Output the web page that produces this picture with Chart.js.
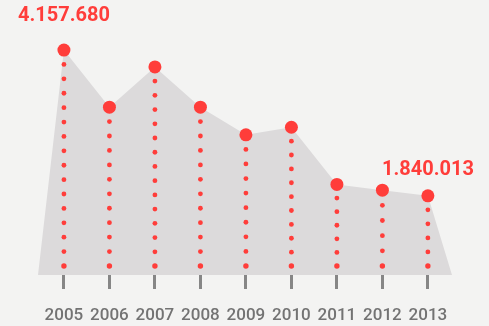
<!DOCTYPE html>
<html>
<head>
<meta charset="utf-8">
<script src="https://cdn.jsdelivr.net/npm/chart.js@4"></script>
<style>
  html, body { margin: 0; padding: 0; background: #f3f3f2; }
  #wrap { width: 489px; height: 326px; }
</style>
</head>
<body>
<div id="wrap"><canvas id="lineChart" width="489" height="326"></canvas></div>
<script>
const years = [2005, 2006, 2007, 2008, 2009, 2010, 2011, 2012, 2013]
const values = [4157680, 3250000, 3890000, 3250000, 2810000, 2930000, 2020000, 1930000, 1840013]
// only the first and last values get a label
const labelled = [0, 8]

const red = '#ff3d3a'
const yMin = 580000
const yMax = 4636000

// the grey area runs a bit past the first and last year down to the baseline
const areaPoints = [{ x: 2004.43, y: yMin }]
    .concat(years.map((y, i) => ({ x: y, y: values[i] })))
    .concat([{ x: 2013.53, y: yMin }])

const dotLines = {
    id: 'dotLines',
    beforeDatasetDraw(chart, args) {
        if (args.index !== 0) return
        const ctx = chart.ctx
        const bottom = chart.chartArea.bottom - 9
        ctx.save()
        ctx.fillStyle = red
        args.meta.data.forEach(pt => {
            const len = bottom - pt.y
            const n = Math.round(len / 14.3)
            const step = len / n
            for (let k = 1; k <= n; k++) {
                ctx.beginPath()
                ctx.arc(pt.x, pt.y + k * step, k === n ? 2.7 : 2.4, 0, Math.PI * 2)
                ctx.fill()
            }
        })
        ctx.restore()
    }
}

const valueLabels = {
    id: 'valueLabels',
    afterDatasetsDraw(chart) {
        const ctx = chart.ctx
        const meta = chart.getDatasetMeta(0)
        const offsets = { 0: 34, 8: 26 }
        ctx.save()
        ctx.font = 'bold 20px Roboto'
        ctx.fillStyle = red
        ctx.textAlign = 'center'
        ctx.textBaseline = 'middle'
        labelled.forEach(i => {
            const pt = meta.data[i]
            const txt = values[i].toLocaleString('de-DE')
            ctx.fillText(txt, pt.x, pt.y - offsets[i])
        })
        ctx.restore()
    }
}

new Chart(document.getElementById('lineChart'), {
    type: 'line',
    data: {
        datasets: [{
            data: years.map((y, i) => ({ x: y, y: values[i] })),
            showLine: false,
            pointRadius: 6.5,
            pointBackgroundColor: red,
            pointBorderWidth: 0,
            order: 0,
            clip: false
        }, {
            data: areaPoints,
            fill: 'start',
            backgroundColor: '#dcdadb',
            borderWidth: 0,
            pointRadius: 0,
            tension: 0,
            order: 1,
            clip: false
        }]
    },
    options: {
        responsive: false,
        animation: false,
        events: [],
        layout: {
            padding: { left: 38, right: 37, top: 20, bottom: 0 }
        },
        plugins: {
            legend: { display: false },
            tooltip: { enabled: false }
        },
        scales: {
            x: {
                type: 'linear',
                min: 2004.43,
                max: 2013.53,
                afterBuildTicks: s => { s.ticks = years.map(v => ({ value: v })) },
                afterFit: s => { s.height = 51 },
                border: { display: false },
                grid: {
                    drawOnChartArea: false,
                    drawTicks: true,
                    tickLength: 14,
                    tickWidth: 3,
                    tickColor: '#868686'
                },
                ticks: {
                    padding: 17,
                    color: '#737373',
                    font: { family: 'Roboto', size: 17, weight: '500' },
                    maxRotation: 0,
                    autoSkip: false,
                    callback: v => String(v)
                }
            },
            y: {
                display: false,
                min: yMin,
                max: yMax
            }
        }
    },
    plugins: [dotLines, valueLabels]
})
</script>
</body>
</html>
